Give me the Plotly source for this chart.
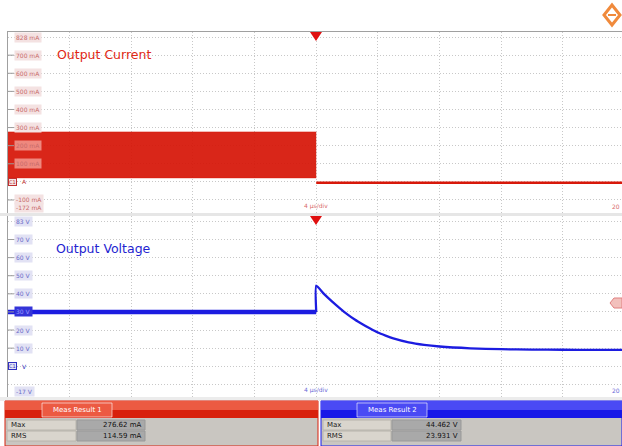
import plotly.graph_objects as go

# ---- data ----
# time axis in microseconds, 4 us/div, trigger at 0
cur_pre_t = [-20, 0]
cur_pre_hi = [276, 276]      # mA, top of the switching band
cur_pre_lo = [22, 22]        # mA, bottom of the switching band
cur_post_t = [0, 20]
cur_post = [-5, -5]          # mA

volt_pre_t = [-20, 0]
volt_pre = [30, 30]          # V
volt_post_t = [0, 0, 0.5, 1, 1.5, 2, 2.5, 3, 3.5, 4, 4.5, 5, 6, 7, 8, 10, 12, 14, 16, 18, 20]
volt_post = [30, 44.5, 40.0, 36.0, 32.3, 28.8, 25.8, 23.2, 20.8, 18.6, 16.9, 15.4,
             13.2, 11.8, 10.9, 9.9, 9.4, 9.2, 9.1, 9.0, 9.0]

cur_labels = ['700 mA', '600 mA', '500 mA', '400 mA', '300 mA', '200 mA', '100 mA', '-100 mA']
cur_label_vals = [700, 600, 500, 400, 300, 200, 100, -100]
volt_labels = ['70 V', '60 V', '50 V', '40 V', '30 V', '20 V', '10 V']
volt_label_vals = [70, 60, 50, 40, 30, 20, 10]

meas1_names = ['Max', 'RMS']
meas1_vals = ['276.62 mA', '114.59 mA']
meas2_names = ['Max', 'RMS']
meas2_vals = ['44.462 V', '23.931 V']

W, H = 622, 446
RED = '#d8180a'
BLUE = '#1c1ce0'


def fx(x):
    return x / W


def fy(y):
    return 1 - y / H


fig = go.Figure()

# current band (high frequency switching drawn as an envelope)
fig.add_trace(go.Scatter(x=cur_pre_t, y=cur_pre_lo, mode='lines',
                         line=dict(color=RED, width=0.5), xaxis='x', yaxis='y',
                         hoverinfo='skip'))
fig.add_trace(go.Scatter(x=cur_pre_t, y=cur_pre_hi, mode='lines', fill='tonexty',
                         fillcolor='rgba(214,22,8,0.93)',
                         line=dict(color=RED, width=0.5), xaxis='x', yaxis='y'))
fig.add_trace(go.Scatter(x=cur_post_t, y=cur_post, mode='lines',
                         line=dict(color=RED, width=2.5), xaxis='x', yaxis='y'))

# voltage
fig.add_trace(go.Scatter(x=volt_pre_t, y=volt_pre, mode='lines',
                         line=dict(color=BLUE, width=4.5), xaxis='x2', yaxis='y2'))
fig.add_trace(go.Scatter(x=volt_post_t, y=volt_post, mode='lines',
                         line=dict(color=BLUE, width=2.3, shape='spline', smoothing=0.5),
                         xaxis='x2', yaxis='y2'))

x_rng = [-20, 19.84]
grid = dict(showgrid=True, gridcolor='#c8c8c8', griddash='1px,2px', gridwidth=1,
            zeroline=False, showline=True, mirror=True, linecolor='#a0a0a0',
            showticklabels=False, ticks='')
fig.update_layout(
    width=W, height=H,
    margin=dict(l=0, r=0, t=0, b=0),
    paper_bgcolor='white', plot_bgcolor='white',
    showlegend=False,
    font=dict(family='DejaVu Sans'),
    xaxis=dict(domain=[fx(8), 1], range=x_rng, tickvals=[-16, -12, -8, -4, 0, 4, 8, 12, 16],
               anchor='y', **grid),
    yaxis=dict(domain=[fy(213), fy(32)], range=[-172, 828],
               tickvals=[-100, 0, 100, 200, 300, 400, 500, 600, 700, 800],
               anchor='x', **grid),
    xaxis2=dict(domain=[fx(8), 1], range=x_rng, tickvals=[-16, -12, -8, -4, 0, 4, 8, 12, 16],
                anchor='y2', **grid),
    yaxis2=dict(domain=[fy(397), fy(216)], range=[-17, 83],
                tickvals=[-10, 0, 10, 20, 30, 40, 50, 60, 70, 80],
                anchor='x2', **grid),
)

shapes = []
ann = []

# little left tick dashes
for v in cur_label_vals + [0]:
    shapes.append(dict(type='line', xref='paper', yref='y', x0=fx(8), x1=fx(14), y0=v, y1=v,
                       line=dict(color='#9c9c9c', width=1)))
for v in volt_label_vals + [0]:
    shapes.append(dict(type='line', xref='paper', yref='y2', x0=fx(8), x1=fx(14), y0=v, y1=v,
                       line=dict(color='#9c9c9c', width=1)))

# axis labels, current
lab_font_c = dict(size=6, color='#c86a6a')
for t, v in zip(cur_labels, cur_label_vals):
    bg = 'rgba(245,170,160,0.75)' if v in (100, 200) else '#f4e2e2'
    ann.append(dict(xref='paper', yref='y', x=fx(14), y=v, text=t, showarrow=False,
                    xanchor='left', yanchor='middle', bgcolor=bg, borderpad=1, font=lab_font_c))
ann.append(dict(xref='paper', yref='y', x=fx(14), y=828, text='828 mA', showarrow=False,
                xanchor='left', yanchor='top', bgcolor='#f4e2e2', borderpad=1, font=lab_font_c))
ann.append(dict(xref='paper', yref='y', x=fx(14), y=-172, text='-172 mA', showarrow=False,
                xanchor='left', yanchor='bottom', bgcolor='#f4e2e2', borderpad=1, font=lab_font_c))
ann.append(dict(xref='paper', yref='y', x=fx(8), y=0, text='C1', showarrow=False,
                xanchor='left', yanchor='middle', bgcolor='#f4e2e2', bordercolor='#c03030',
                borderwidth=1, borderpad=0, font=dict(size=5, color='#c03030')))
ann.append(dict(xref='paper', yref='y', x=fx(20), y=0, text='A', showarrow=False,
                xanchor='left', yanchor='middle', font=dict(size=6, color='#c03030')))

# axis labels, voltage
lab_font_v = dict(size=6, color='#6a6ac8')
for t, v in zip(volt_labels, volt_label_vals):
    bg = '#3434d8' if v == 30 else '#e2e2f4'
    fc = '#9a9aff' if v == 30 else '#6a6ac8'
    ann.append(dict(xref='paper', yref='y2', x=fx(14), y=v, text=t, showarrow=False,
                    xanchor='left', yanchor='middle', bgcolor=bg, borderpad=1,
                    font=dict(size=6, color=fc)))
ann.append(dict(xref='paper', yref='y2', x=fx(14), y=83, text='83 V', showarrow=False,
                xanchor='left', yanchor='top', bgcolor='#e2e2f4', borderpad=1, font=lab_font_v))
ann.append(dict(xref='paper', yref='y2', x=fx(14), y=-17, text='-17 V', showarrow=False,
                xanchor='left', yanchor='bottom', bgcolor='#e2e2f4', borderpad=1, font=lab_font_v))
ann.append(dict(xref='paper', yref='y2', x=fx(8), y=0, text='C1', showarrow=False,
                xanchor='left', yanchor='middle', bgcolor='#e2e2f4', bordercolor='#3030c0',
                borderwidth=1, borderpad=0, font=dict(size=5, color='#3030c0')))
ann.append(dict(xref='paper', yref='y2', x=fx(20), y=0, text='V', showarrow=False,
                xanchor='left', yanchor='middle', font=dict(size=6, color='#3030c0')))

# titles
ann.append(dict(xref='paper', yref='paper', x=fx(55), y=fy(54), text='Output Current',
                showarrow=False, xanchor='left', yanchor='middle',
                font=dict(size=12.5, color='#e02814')))
ann.append(dict(xref='paper', yref='paper', x=fx(54), y=fy(248), text='Output Voltage',
                showarrow=False, xanchor='left', yanchor='middle',
                font=dict(size=12.5, color='#2424d0')))

# time scale labels
for yy, col in ((206, '#d86a6a'), (390, '#6a6ad8')):
    ann.append(dict(xref='paper', yref='paper', x=fx(316), y=fy(yy), text='4 µs/div',
                    showarrow=False, xanchor='center', yanchor='middle',
                    font=dict(size=6, color=col)))
    ann.append(dict(xref='paper', yref='paper', x=1, y=fy(yy), text='20',
                    showarrow=False, xanchor='right', yanchor='middle',
                    font=dict(size=6, color=col)))

# trigger markers
for ytop in (32, 216):
    shapes.append(dict(type='path', xref='paper', yref='paper',
                       path=f'M {fx(310)} {fy(ytop)} L {fx(322)} {fy(ytop)} L {fx(316)} {fy(ytop + 9)} Z',
                       fillcolor='#e01010', line=dict(width=0)))
# trigger level tag on the right
shapes.append(dict(type='path', xref='paper', yref='paper',
                   path=f'M {fx(610)} {fy(303)} L {fx(614)} {fy(298)} L {fx(622)} {fy(298)} '
                        f'L {fx(622)} {fy(308)} L {fx(614)} {fy(308)} Z',
                   fillcolor='#f2c0bc', line=dict(color='#e08080', width=1)))

# separator strips
shapes.append(dict(type='rect', xref='paper', yref='paper', x0=0, x1=1, y0=fy(216), y1=fy(213),
                   fillcolor='#e6e6e6', line=dict(width=0)))
shapes.append(dict(type='rect', xref='paper', yref='paper', x0=0, x1=1, y0=fy(401), y1=fy(397),
                   fillcolor='#ececec', line=dict(width=0)))

# logo (orange diamond)
shapes.append(dict(type='path', xref='paper', yref='paper',
                   path=f'M {fx(612)} {fy(5)} L {fx(620)} {fy(15)} L {fx(612)} {fy(25)} L {fx(604)} {fy(15)} Z',
                   fillcolor='white', line=dict(color='#f08a3c', width=3)))
shapes.append(dict(type='line', xref='paper', yref='paper', x0=fx(608), x1=fx(616), y0=fy(15), y1=fy(15),
                   line=dict(color='#f08a3c', width=2)))


# measurement panels
def meas_panel(x0, x1, dark, light, tab_x, tab_text, names, vals, c_lab, c_val):
    shapes.append(dict(type='rect', xref='paper', yref='paper', x0=fx(x0), x1=fx(x1),
                       y0=fy(446), y1=fy(401), fillcolor='#c9c6c1', line=dict(color=dark, width=1)))
    shapes.append(dict(type='rect', xref='paper', yref='paper', x0=fx(x0), x1=fx(x1),
                       y0=fy(410), y1=fy(401), fillcolor=light, line=dict(width=0)))
    shapes.append(dict(type='rect', xref='paper', yref='paper', x0=fx(x0), x1=fx(x1),
                       y0=fy(418), y1=fy(410), fillcolor=dark, line=dict(width=0)))
    shapes.append(dict(type='rect', xref='paper', yref='paper', x0=fx(tab_x[0]), x1=fx(tab_x[1]),
                       y0=fy(417), y1=fy(403), fillcolor=light,
                       line=dict(color='rgba(255,255,255,0.6)', width=1)))
    ann.append(dict(xref='paper', yref='paper', x=fx((tab_x[0] + tab_x[1]) / 2), y=fy(410),
                    text=tab_text, showarrow=False, xanchor='center', yanchor='middle',
                    font=dict(size=7, color='white')))
    for i, (nm, vl) in enumerate(zip(names, vals)):
        top = 420 + i * 11
        shapes.append(dict(type='rect', xref='paper', yref='paper', x0=fx(c_lab[0]), x1=fx(c_lab[1]),
                           y0=fy(top + 10), y1=fy(top), fillcolor='#d9d5cd',
                           line=dict(color='#b8b4ac', width=1)))
        shapes.append(dict(type='rect', xref='paper', yref='paper', x0=fx(c_val[0]), x1=fx(c_val[1]),
                           y0=fy(top + 10), y1=fy(top), fillcolor='#a9a9a9',
                           line=dict(color='#999999', width=1)))
        ann.append(dict(xref='paper', yref='paper', x=fx(c_lab[0] + 2), y=fy(top + 5), text=nm,
                        showarrow=False, xanchor='left', yanchor='middle',
                        font=dict(size=7, color='#202020')))
        ann.append(dict(xref='paper', yref='paper', x=fx(c_val[1] - 1), y=fy(top + 5), text=vl,
                        showarrow=False, xanchor='right', yanchor='middle',
                        font=dict(size=7, color='#101010')))


meas_panel(5, 318, '#d8200c', '#ec5a42', (42, 112), 'Meas Result 1',
           meas1_names, meas1_vals, (7, 76), (77, 145))
meas_panel(321, 622, '#1818e8', '#4a4af4', (357, 427), 'Meas Result 2',
           meas2_names, meas2_vals, (323, 391), (392, 461))

fig.update_layout(shapes=shapes, annotations=ann)
fig.write_html("out.html", config={'displayModeBar': False},
               post_script="document.body.style.margin='0px';")
